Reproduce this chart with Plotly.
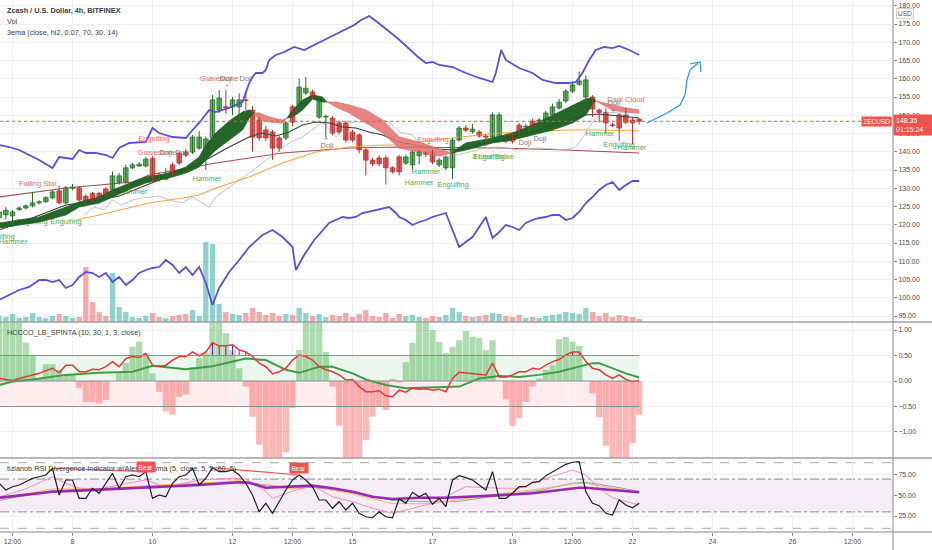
import plotly.graph_objects as go

W, H = 932, 550
FONT = "Liberation Sans"

# ---------------- time base (4h bars) ----------------
N = 97
T0 = 6 + 4 / 24.0          # first bar: day 6, 04:00
STEP = 1 / 6.0             # 4 hours in days


def bar_day(i):
    return T0 + i * STEP


days = [bar_day(i) for i in range(N)]

# ---------------- price candles ----------------
opens = [121.9, 122.7, 122.4, 124.2, 124.6, 125.2, 126.0, 126.3, 127.4, 129.3,
         126.0, 130.0, 130.1, 127.8, 128.6, 128.6, 129.8, 129.5, 131.6, 131.6,
         135.6, 136.1, 136.1, 138.2, 133.6, 132.5, 136.4, 139.6, 139.9, 139.9,
         141.0, 138.6, 143.8, 151.4, 152.3, 152.3, 152.3, 154.2, 151.4, 148.7,
         146.0, 145.4, 143.8, 143.8, 152.3, 152.8, 156.1, 156.4, 149.5, 149.5,
         149.2, 147.9, 147.9, 145.4, 144.6, 140.5, 137.7, 138.3, 138.3, 135.6,
         138.6, 136.9, 136.4, 138.9, 139.6, 139.9, 136.4, 135.6, 135.6, 143.2,
         146.5, 145.5, 145.4, 144.3, 144.0, 144.0, 144.3, 144.6, 147.3, 146.8,
         148.4, 148.4, 148.7, 150.1, 152.0, 153.9, 156.6, 158.5, 155.0, 155.0,
         151.4, 150.8, 147.3, 150.1, 150.1, 148.7, 148.9]
highs = [124.5, 124.8, 124.0, 125.0, 125.6, 129.0, 126.7, 127.8, 129.5, 130.8,
         130.6, 131.2, 130.6, 128.3, 129.0, 129.0, 130.3, 134.6, 134.2, 136.5,
         136.9, 137.2, 138.6, 138.8, 134.4, 135.5, 137.0, 140.1, 140.8, 144.6,
         145.6, 144.2, 155.5, 156.9, 157.0, 155.0, 156.0, 156.5, 152.5, 149.5,
         147.0, 146.0, 144.5, 148.4, 152.8, 160.0, 160.5, 157.0, 155.3, 150.2,
         149.8, 148.5, 148.5, 146.0, 145.0, 141.0, 138.3, 139.0, 139.0, 136.0,
         139.2, 139.2, 140.3, 140.4, 140.1, 140.5, 138.3, 139.0, 143.8, 147.0,
         147.3, 147.6, 146.0, 144.8, 150.8, 150.8, 145.0, 145.2, 147.9, 147.7,
         149.0, 149.3, 151.2, 153.2, 154.5, 157.2, 159.0, 162.0, 160.9, 155.5,
         151.9, 152.0, 148.0, 150.6, 152.0, 149.2, 149.2]
lows = [121.0, 121.5, 119.5, 123.8, 124.2, 124.8, 125.6, 126.0, 127.0, 125.6,
        125.5, 129.5, 126.3, 125.9, 126.2, 127.0, 127.2, 129.0, 131.0, 131.2,
        135.2, 135.8, 135.7, 131.6, 131.8, 132.2, 133.4, 136.4, 138.6, 139.4,
        140.5, 135.0, 143.2, 150.6, 150.4, 150.0, 149.0, 151.5, 140.0, 143.0,
        143.0, 137.8, 140.0, 143.2, 147.0, 152.0, 155.5, 154.4, 149.0, 144.0,
        144.5, 144.8, 142.5, 142.6, 139.5, 133.5, 136.0, 136.0, 131.0, 134.0,
        133.5, 136.4, 135.0, 136.5, 138.5, 136.6, 135.8, 135.0, 132.5, 142.8,
        145.3, 145.0, 143.8, 141.5, 143.5, 142.5, 142.3, 142.3, 144.0, 146.2,
        146.6, 148.0, 148.2, 149.6, 151.5, 153.4, 156.0, 158.0, 154.4, 149.5,
        148.0, 145.0, 146.7, 143.0, 147.5, 142.0, 147.5]
closes = [123.5, 124.0, 123.5, 124.6, 125.2, 126.0, 126.3, 127.4, 129.0, 126.0,
          130.1, 130.3, 126.8, 126.5, 126.6, 127.5, 127.5, 133.4, 133.4, 135.6,
          136.4, 136.6, 138.0, 132.3, 132.5, 132.9, 133.9, 136.9, 139.1, 144.0,
          144.0, 143.5, 154.2, 154.7, 152.0, 154.2, 154.2, 154.0, 144.0, 143.8,
          143.8, 141.0, 141.0, 147.9, 148.1, 157.7, 157.4, 155.0, 154.7, 149.7,
          145.1, 145.4, 143.2, 143.2, 140.5, 137.7, 136.7, 136.7, 135.6, 134.5,
          134.5, 138.6, 139.9, 139.9, 139.3, 137.2, 137.7, 138.5, 143.2, 146.5,
          145.9, 146.2, 144.3, 144.0, 150.1, 150.1, 142.9, 142.9, 144.6, 147.0,
          147.1, 148.7, 150.6, 152.3, 153.6, 156.6, 158.3, 159.4, 159.7, 151.7,
          150.8, 147.9, 147.2, 146.5, 148.1, 147.9, 148.35]
volumes = [6, 5, 8, 4, 5, 9, 5, 4, 6, 8,
           6, 4, 5, 55, 20, 10, 6, 49, 15, 10,
           5, 4, 6, 9, 5, 4, 6, 7, 8, 12,
           6, 80, 78, 18, 10, 8, 7, 9, 14, 10,
           7, 9, 6, 8, 7, 14, 9, 6, 8, 5,
           7, 6, 9, 5, 8, 12, 6, 5, 9, 4,
           8, 6, 7, 5, 4, 6, 5, 7, 14, 10,
           6, 5, 6, 7, 9, 8, 6, 5, 7, 4,
           5, 4, 6, 7, 8, 10, 9, 8, 14, 10,
           6, 9, 5, 7, 6, 5, 3]
last_price = 148.35

# ---------------- overlays on price (sampled at bar index) ----------------
upper_idx = [0, 1.5, 3, 4.5, 6, 8, 9, 10, 11, 12, 13, 14.5, 16, 17, 18, 19.5, 21, 22, 23, 24,
             26, 28, 29, 30, 31.5, 32.5, 34.5, 35.5, 36.5, 37.5, 38, 38.5, 39.5, 40, 40.5, 41.5,
             42.75, 44.25, 45.75, 47.25, 48.75, 50.25, 51.75, 53.25, 54.3, 55.5, 56.7, 58.2,
             59.7, 61.2, 63, 64, 65, 66, 68, 70, 72, 74, 74.5, 75.3, 76, 78, 80, 81.5, 83.5,
             85.5, 86.5, 87.5, 88, 88.5, 89.5, 90.75, 92, 93, 94.5, 96]
upper_band = [141.85, 141.3, 140.48, 139.11, 137.74, 135.55, 138.56, 138.29, 138.02, 140.48,
              139.66, 139.66, 139.11, 138.29, 141.03, 142.4, 142.67, 142.67, 146.51, 145.14,
              144.04, 143.77, 145.96, 147.88, 151.44, 150.89, 151.99, 152.8, 153.63, 158.83,
              160.48, 161.58, 161.58, 162.4, 165.14, 166.51, 167.33, 168.7, 167.88, 169.25,
              170.62, 171.99, 173.36, 174.72, 176.1, 177.19, 175.55, 173.36, 171.16, 168.7,
              165.68, 164.31, 164.59, 163.77, 163.22, 161.58, 160.21, 159.11, 161.58, 167.88,
              165.14, 162.95, 161.58, 159.66, 158.83, 158.83, 159.11, 161.58, 163.22, 165.14,
              167.88, 168.7, 168.42, 168.97, 167.88, 166.51]
lower_idx = [0, 1.5, 3, 4.5, 6, 7, 8, 9, 10, 11, 12, 13, 14, 15, 16, 17, 18, 19, 20, 21,
             22, 23, 24, 25, 26, 27, 28, 29, 30, 31, 32, 33, 34.5, 36, 37.5, 39.5, 41, 42.5,
             44, 44.5, 45.75, 47.25, 48.75, 49.5, 50.5, 51.5, 52.5, 53.5, 54.5, 56.5, 57.5,
             58.5, 59.5, 60, 61, 62, 63, 64, 65, 66, 67, 68, 69, 70, 71, 73, 74, 75, 76, 77,
             78, 79, 80, 81, 82, 83, 84, 85, 86, 87, 88, 89, 90, 91, 92, 93, 94, 95, 96]
lower_band = [99.38, 100.75, 102.12, 102.95, 104.86, 104.86, 104.31, 104.86, 102.67, 103.49,
              105.69, 107.06, 106.78, 105.69, 106.78, 104.31, 105.69, 103.49, 104.86, 106.78,
              107.6, 108.15, 108.42, 110.34, 108.97, 106.78, 108.42, 106.23, 108.42, 104.04,
              98.01, 102.67, 107.06, 110.34, 113.9, 117.19, 118.56, 116.64, 113.9, 107.6,
              111.71, 115.82, 119.11, 120.48, 121.3, 122.12, 121.85, 122.12, 123.22, 124.04,
              124.59, 124.86, 123.22, 122.12, 121.3, 119.93, 120.75, 121.3, 122.12, 122.67,
              123.22, 118.56, 113.9, 115.27, 116.64, 122.12, 116.37, 118.01, 119.93, 119.38,
              118.56, 120.48, 121.3, 121.85, 122.12, 122.67, 122.67, 121.3, 121.85, 123.49,
              125.96, 127.6, 129.52, 130.9, 131.71, 129.52, 130.9, 131.99, 131.99]

ribbon_idx = [0, 3, 6, 10, 12, 15, 17, 20, 22, 24, 26, 28, 30, 31, 32.5, 34.5, 36.5, 37.5,
              38.25, 39, 40.5, 42.5, 43.2, 44, 45.5, 47, 48.5, 49.2, 50.5, 52.5, 55, 57.5,
              60, 63, 66, 67.8, 70, 74, 77, 80, 83, 86, 88, 89, 89.5, 92, 94, 96]
ribbon_fast = [120.48, 121.3, 122.12, 124.86, 126.23, 127.6, 129.52, 131.71, 133.08, 133.63,
               134.45, 135.82, 138.56, 141.85, 145.14, 148.42, 150.89, 151.44, 150.62, 148.7,
               148.15, 147.88, 149.25, 151.44, 154.18, 155.55, 155.0, 153.63, 152.26, 150.62,
               147.88, 145.14, 141.03, 139.93, 138.83, 139.66, 142.4, 143.77, 145.14, 147.33,
               150.07, 152.81, 154.45, 154.73, 153.9, 151.44, 150.89, 150.62]
ribbon_slow = [119.11, 119.93, 120.75, 122.67, 124.86, 125.96, 127.6, 130.07, 131.44, 132.26,
               133.08, 134.18, 135.82, 137.74, 140.48, 143.22, 145.96, 149.25, 150.62, 150.62,
               149.52, 148.7, 149.25, 149.52, 151.44, 154.45, 153.63, 153.63, 153.63, 152.81,
               151.44, 148.7, 144.04, 142.67, 140.75, 139.66, 140.48, 142.4, 143.22, 144.59,
               145.96, 147.88, 150.07, 153.08, 153.9, 152.81, 151.99, 151.44]

black_idx = [0, 3, 10, 15, 18, 21, 24, 27, 29.25, 31.5, 34.5, 37.5, 39.3, 41.5, 43.5, 45.5,
             47.5, 49.5, 51.5, 53.5, 55.5, 57.5, 60, 63, 66, 68, 70, 75, 80, 85, 88, 90, 93, 96]
black_ma = [118.56, 120.48, 125.41, 126.78, 127.88, 130.07, 132.26, 134.45, 136.1, 138.29,
            141.3, 144.04, 145.14, 144.32, 145.41, 147.33, 148.15, 147.88, 146.78, 146.51,
            145.41, 144.59, 142.67, 141.58, 140.75, 140.48, 141.03, 143.22, 145.41, 148.7,
            150.07, 150.34, 149.8, 149.25]
orange_idx = [11.5, 15, 20, 22.5, 27.5, 30, 32.5, 37.5, 42.5, 47.5, 52.5, 57.5, 60, 65, 75,
              80, 85, 90, 96]
orange_ma = [121.3, 122.67, 124.86, 125.96, 127.33, 128.15, 130.07, 133.08, 136.92, 139.93,
             141.3, 141.85, 141.85, 143.22, 145.14, 145.41, 145.96, 145.96, 145.69]
brown_idx = [0, 10, 20, 22.5, 32.5, 42.5, 52.5, 60, 75, 85, 96]
brown_ma = [127.6, 130.07, 131.71, 133.63, 136.92, 139.66, 141.03, 141.3, 141.03, 140.48, 139.66]
gray_idx = [12.75, 14.25, 15.75, 17, 18.3, 20, 21.5, 22.5, 24, 25.5, 27.5, 29, 31.5, 32.5, 34,
            35.5, 37.5, 39.5, 41.5, 43.5, 45.5, 47.5, 48.5, 49.5, 50.5, 52.5, 53.5, 55.5, 57.5,
            58.5, 60, 62, 63, 65, 67, 70, 73, 75, 78, 81, 85, 86.5, 87.5, 88.5, 89.5, 91, 93, 96]
gray_line = [122.67, 124.86, 124.04, 126.78, 125.41, 126.78, 127.33, 127.6, 127.88, 126.78,
             125.96, 127.6, 124.86, 127.6, 129.52, 131.44, 134.18, 136.92, 139.66, 142.4,
             144.04, 146.78, 148.15, 145.96, 144.04, 147.88, 148.15, 148.15, 148.7, 148.15,
             145.41, 144.59, 142.4, 139.66, 138.56, 139.66, 141.03, 141.3, 140.48, 141.03,
             140.48, 141.3, 143.77, 146.78, 149.25, 150.62, 150.89, 150.62]

# ---------------- candle pattern labels ----------------
label_text = ["Falling Star", "Engulfing", "Gravestone", "Doji", "Doji", "Gravestone", "Doji",
              "Doji", "Hammer", "Doji", "Hammer", "Engulfing", "Engulfing", "Engulfing",
              "Hammer", "Engulfing", "Hammer", "Hammer", "Engulfing", "Engulfing",
              "3 Line Strike", "Doji", "Doji", "Doji", "Dark Cloud", "Hammer", "Engulfing",
              "Hammer"]
label_kind = ["bear", "bear", "bear", "doji", "doji", "bear", "doji",
              "doji", "bull", "doji", "bull", "bull", "bull", "bull",
              "bull", "bear", "bull", "bull", "bull", "bull",
              "bull", "doji", "doji", "doji", "bear", "bull", "bull", "bull"]
label_day = [7.1375, 10.0375, 10.1125, 10.3375, 10.7375, 11.6625, 11.8375,
             12.3375, 11.3625, 14.3625, 6.5125, 6.1625, 6.9875, 7.8375,
             9.5125, 17.0125, 16.8375, 16.6625, 17.5125, 18.4125,
             18.5125, 19.3125, 19.6875, 21.5375, 21.8375, 21.1875, 21.6625, 21.9875]
label_price = [131.16, 143.49, 139.66, 139.66, 139.66, 159.93, 159.93,
               159.93, 132.53, 141.58, 115.27, 116.64, 120.75, 120.75,
               128.97, 143.22, 134.45, 131.44, 130.89, 138.56,
               138.56, 142.4, 143.49, 153.36, 154.18, 144.86, 141.85, 141.03]
mark_text = ["*", "*", "+", "+"]
mark_kind = ["bear", "doji", "doji", "doji"]
mark_day = [11.8625, 12.3625, 14.3375, 21.5125]
mark_price = [157.74, 156.92, 143.49, 151.16]

# hand-drawn arrow (day, price)
arrow_day = [22.3625, 22.8625, 23.1875, 23.3125, 23.3625, 23.4375, 23.6375]
arrow_price = [147.88, 150.62, 152.81, 155.55, 159.66, 162.4, 164.31]
arrowhead_day = [23.4375, 23.6875, 23.7125]
arrowhead_price = [164.04, 164.59, 161.85]

# ---------------- HCCCO oscillator ----------------
hist = [1.5, 1.5, 1.5, 1.5, 0.75, 0.51, 0.05, 0.33, 0.33, 0.22,
        0.12, 0.12, -0.14, -0.41, -0.41, -0.44, -0.37, 0.0, 0.15, 0.35,
        0.67, 0.77, 0.55, 0.15, -0.21, -0.6, -0.66, -0.31, -0.27, 0.27,
        0.45, 0.55, 1.5, 1.5, 0.94, 0.61, 0.25, -0.11, -0.7, -1.25,
        -1.6, -1.6, -1.6, -1.4, -0.53, 0.61, 1.5, 1.5, 1.5, 0.57,
        -0.11, -0.88, -1.6, -1.6, -1.6, -1.16, -0.7, -0.5, -0.57, 0.04,
        -0.03, 0.37, 0.75, 1.5, 1.5, 1.0, 0.77, 0.55, 0.67, 0.8,
        0.98, 0.87, 0.84, 0.61, 0.8, 0.0, -0.36, -0.88, -0.73, -0.41,
        -0.11, 0.05, 0.22, 0.31, 0.82, 0.86, 0.77, 0.69, 0.0, -0.24,
        -0.71, -1.27, -1.6, -1.6, -1.6, -1.22, -0.66]
osc_red = [0.05, 0.03, 0.01, 0.05, 0.08, 0.11, 0.15, 0.2, 0.25, 0.16,
           0.31, 0.31, 0.18, 0.18, 0.23, 0.22, 0.28, 0.38, 0.28, 0.44,
           0.48, 0.46, 0.54, 0.31, 0.29, 0.31, 0.41, 0.48, 0.48, 0.57,
           0.49, 0.57, 0.75, 0.69, 0.69, 0.71, 0.61, 0.57, 0.48, 0.35,
           0.28, 0.14, 0.18, 0.25, 0.41, 0.51, 0.48, 0.41, 0.28, 0.22,
           0.18, 0.12, 0.02, 0.03, -0.11, -0.21, -0.21, -0.19, -0.29, -0.31,
           -0.18, -0.22, -0.14, -0.16, -0.15, -0.18, -0.16, -0.21, 0.05, 0.17,
           0.16, 0.15, 0.14, 0.12, 0.35, 0.08, 0.08, 0.12, 0.18, 0.18,
           0.25, 0.23, 0.31, 0.38, 0.42, 0.51, 0.57, 0.57, 0.38, 0.25,
           0.22, 0.12, 0.05, 0.12, 0.03, -0.01, 0.01]
osc_green_idx = [0, 2, 5, 10, 15, 20, 23, 25.5, 28, 32, 35, 37, 40, 43, 45, 48, 50, 53, 55,
                 58, 61, 65, 69, 72, 75, 78, 81, 84, 87, 89, 90, 92, 94, 96]
osc_green = [-0.08, -0.01, 0.03, 0.12, 0.16, 0.18, 0.3, 0.26, 0.23, 0.29, 0.38, 0.44, 0.41,
             0.22, 0.16, 0.28, 0.28, 0.15, 0.03, -0.08, -0.14, -0.13, -0.11, 0.05, 0.1, 0.08,
             0.12, 0.18, 0.28, 0.35, 0.35, 0.25, 0.15, 0.07]
osc_flag_bars = [32, 33, 34, 35, 36, 37, 86, 87]
osc_levels = [0.5, 0.0, -0.5]

# ---------------- RSI ----------------
rsi = [64.9, 56.7, 60.7, 62.8, 66.8, 70.9, 72.9, 75.0, 83.2, 50.6,
       68.9, 68.9, 46.6, 46.6, 58.8, 52.7, 64.9, 77.0, 58.8, 72.9,
       75.0, 72.9, 79.0, 46.6, 50.6, 48.5, 64.9, 72.9, 75.0, 83.2,
       62.8, 71.0, 83.9, 79.0, 79.0, 81.1, 75.0, 64.9, 50.6, 30.2,
       40.5, 28.3, 42.4, 56.7, 68.9, 75.0, 68.9, 60.7, 44.5, 44.5,
       34.4, 42.4, 32.3, 40.5, 28.3, 24.1, 22.9, 30.2, 24.1, 22.9,
       46.0, 40.5, 53.9, 48.5, 52.7, 39.3, 46.6, 36.3, 68.9, 74.2,
       71.7, 68.9, 62.8, 56.7, 79.0, 46.6, 46.6, 52.7, 60.7, 60.7,
       66.1, 66.8, 74.2, 79.0, 83.2, 88.0, 90.5, 91.2, 54.6, 40.5,
       37.6, 28.3, 26.2, 44.5, 38.4, 35.1, 40.5]
wma_idx = [0, 5, 8, 12, 16.5, 23, 30, 36, 37.5, 40, 45, 47, 50, 53, 56, 59, 63, 67, 74, 80,
           87, 88, 92, 96]
rsi_wma = [47.3, 51.5, 54.6, 55.9, 57.6, 60.0, 62.8, 66.1, 65.5, 59.5, 60.7, 62.0, 58.8, 54.6,
           48.5, 45.7, 47.3, 47.3, 49.8, 52.7, 59.5, 59.5, 56.7, 53.9]
pink_idx = [0, 4, 8, 10, 12, 15, 20, 22, 25, 30, 35, 37, 40, 41, 44, 47, 50, 53, 56, 59, 62,
            65, 68, 70, 72, 75, 78, 82, 86, 88, 90, 92, 95, 96]
rsi_pink = [48, 58, 72.9, 65, 59, 58, 66, 69, 60, 69, 71, 70, 55, 46.6, 55, 62, 48.5, 42.4,
            34.4, 28.3, 34.4, 40.5, 52.7, 60.7, 60, 58.8, 58.8, 71, 81, 75, 58.8, 47.3, 40.5,
            38.4]
slow_idx = [0, 8, 15, 22, 30, 36, 40, 44, 47, 53, 59, 65, 69, 75, 81, 86, 88, 92, 96]
rsi_orange = [46, 58, 58, 62, 65, 68, 62, 58, 61, 52, 40, 40, 45, 52, 58, 64, 65, 59, 54]
rsi_sage = [44, 56, 58, 61, 64, 67, 63, 59, 60, 54, 44, 42, 43, 50, 56, 65, 66, 61, 55]
divergences = [(8, 22), (32, 45)]
bear_y = [84.5, 84.0]
rsi_levels_dash = [90, 10]
rsi_levels_dashdot = [70, 30]

# ---------------- axes ticks ----------------
x_tickvals = [6.5, 8, 10, 12, 13.5, 15, 17, 19, 20.5, 22, 24, 26, 27.5]
x_ticktext = ["12:00", "8", "10", "12", "12:00", "15", "17", "19", "12:00", "22", "24", "26", "12:00"]
price_ticks = [95, 100, 105, 110, 115, 120, 125, 130, 135, 140, 145, 150, 155, 160, 165, 170, 175, 180]
osc_ticks = [1.0, 0.5, 0.0, -0.5, -1.0]
rsi_ticks = [25, 50, 75]

# ---------------- layout geometry (pixels) ----------------
PLOT_R = 893
MAIN_BOTTOM, OSC_BOTTOM, RSI_BOTTOM = 322, 458, 532
X_RANGE = [8 + (0 - 72.5) / 40.0, 8 + (PLOT_R - 72.5) / 40.0]
PRICE_RANGE = [181.575 - MAIN_BOTTOM / 3.65, 181.575]
OSC_RANGE = [-1.51, 1.157]
RSI_RANGE = [5.5, 95.7]


def py(px):
    return 1 - px / H


def idx_days(idx):
    return [bar_day(i) for i in idx]


GRID = "#eef0f5"
BULL_TXT = "#4fae55"
BEAR_TXT = "#ee6b6b"
DOJI_TXT = "#7d7d7d"
kind_color = {"bull": BULL_TXT, "bear": BEAR_TXT, "doji": DOJI_TXT}
UP_BODY, UP_EDGE = "#5cb85c", "#2e6b30"
DN_BODY, DN_EDGE = "#ef5350", "#b03636"

fig = go.Figure()

# volume (base axis y)
vol_colors = ["rgba(38,166,154,0.5)" if c >= o else "rgba(239,83,80,0.5)" for o, c in zip(opens, closes)]
fig.add_trace(go.Bar(x=days, y=volumes, width=STEP * 0.8, marker=dict(color=vol_colors, line=dict(width=0)),
                     xaxis="x", yaxis="y", hoverinfo="skip"))

# bands
for idx, vals in ((upper_idx, upper_band), (lower_idx, lower_band)):
    fig.add_trace(go.Scatter(x=idx_days(idx), y=vals, mode="lines", line=dict(color="#5b4fd8", width=1.8),
                             xaxis="x", yaxis="y4", hoverinfo="skip"))
fig.add_trace(go.Scatter(x=idx_days(brown_idx), y=brown_ma, mode="lines", line=dict(color="#a24d4d", width=1.1),
                         xaxis="x", yaxis="y4", hoverinfo="skip"))
fig.add_trace(go.Scatter(x=idx_days(orange_idx), y=orange_ma, mode="lines", line=dict(color="#f5a54a", width=1.1),
                         xaxis="x", yaxis="y4", hoverinfo="skip"))
fig.add_trace(go.Scatter(x=idx_days(gray_idx), y=gray_line, mode="lines", line=dict(color="#b4b4b4", width=0.8),
                         xaxis="x", yaxis="y4", hoverinfo="skip"))
fig.add_trace(go.Scatter(x=idx_days(black_idx), y=black_ma, mode="lines", line=dict(color="#3a3a3a", width=1.1),
                         xaxis="x", yaxis="y4", hoverinfo="skip"))

# pattern labels (under ribbon and candles)
fig.add_trace(go.Scatter(x=label_day, y=label_price, mode="text", text=label_text,
                         textfont=dict(family=FONT, size=7.5, color=[kind_color[k] for k in label_kind]),
                         xaxis="x", yaxis="y4", hoverinfo="skip"))

# 3ema ribbon, split at crossings
diff = [f - s for f, s in zip(ribbon_fast, ribbon_slow)]
segments, cur = [], [0]
for i in range(1, len(diff)):
    cur.append(i)
    if abs(diff[i]) < 1e-9:
        segments.append(cur)
        cur = [i]
if len(cur) > 1:
    segments.append(cur)
for seg in segments:
    bull = sum(diff[i] for i in seg) > 0
    line_c = "#1d5e22" if bull else "#e07272"
    fill_c = "rgba(27,94,32,0.95)" if bull else "rgba(228,110,110,0.85)"
    xs = [bar_day(ribbon_idx[i]) for i in seg]
    fig.add_trace(go.Scatter(x=xs, y=[ribbon_slow[i] for i in seg], mode="lines",
                             line=dict(color=line_c, width=0.8), xaxis="x", yaxis="y4", hoverinfo="skip"))
    fig.add_trace(go.Scatter(x=xs, y=[ribbon_fast[i] for i in seg], mode="lines", fill="tonexty",
                             fillcolor=fill_c, line=dict(color=line_c, width=0.8),
                             xaxis="x", yaxis="y4", hoverinfo="skip"))

# candles: wicks + bodies
for up in (True, False):
    wx, wy = [], []
    for d, o, h, l, c in zip(days, opens, highs, lows, closes):
        if (c >= o) == up:
            wx += [d, d, None]
            wy += [l, h, None]
    fig.add_trace(go.Scatter(x=wx, y=wy, mode="lines", line=dict(color=UP_EDGE if up else DN_EDGE, width=1),
                             xaxis="x", yaxis="y4", hoverinfo="skip"))
body_base = [min(o, c) for o, c in zip(opens, closes)]
body_len = [max(abs(c - o), 0.15) for o, c in zip(opens, closes)]
fig.add_trace(go.Bar(x=days, y=body_len, base=body_base, width=STEP * 0.68,
                     marker=dict(color=[UP_BODY if c >= o else DN_BODY for o, c in zip(opens, closes)],
                                 line=dict(color=[UP_EDGE if c >= o else DN_EDGE for o, c in zip(opens, closes)],
                                           width=0.8)),
                     xaxis="x", yaxis="y4", hoverinfo="skip"))

# marks
fig.add_trace(go.Scatter(x=mark_day, y=mark_price, mode="text", text=mark_text,
                         textfont=dict(family=FONT, size=8, color=[kind_color[k] for k in mark_kind]),
                         xaxis="x", yaxis="y4", hoverinfo="skip"))

# blue arrow
fig.add_trace(go.Scatter(x=arrow_day, y=arrow_price, mode="lines", line=dict(color="#2196f3", width=1.2),
                         xaxis="x", yaxis="y4", hoverinfo="skip"))
fig.add_trace(go.Scatter(x=arrowhead_day, y=arrowhead_price, mode="lines", line=dict(color="#2196f3", width=1.2),
                         xaxis="x", yaxis="y4", hoverinfo="skip"))

# ---------------- oscillator pane ----------------
hist_colors = ["rgba(76,175,80,0.45)" if v >= 0 else "rgba(255,82,82,0.42)" for v in hist]
fig.add_trace(go.Bar(x=days, y=hist, width=STEP * 0.93, marker=dict(color=hist_colors, line=dict(width=0)),
                     xaxis="x", yaxis="y2", hoverinfo="skip"))
fx, fy = [], []
for b in osc_flag_bars:
    fx += [days[b], days[b], None]
    fy += [0.5, osc_red[b], None]
fig.add_trace(go.Scatter(x=fx, y=fy, mode="lines", line=dict(color="#7b1fa2", width=1),
                         xaxis="x", yaxis="y2", hoverinfo="skip"))
fig.add_trace(go.Scatter(x=idx_days(osc_green_idx), y=osc_green, mode="lines",
                         line=dict(color="#3f9c45", width=2), xaxis="x", yaxis="y2", hoverinfo="skip"))
fig.add_trace(go.Scatter(x=days, y=osc_red, mode="lines", line=dict(color="#e53935", width=1.5),
                         xaxis="x", yaxis="y2", hoverinfo="skip"))

# ---------------- RSI pane ----------------
fig.add_trace(go.Scatter(x=idx_days(slow_idx), y=rsi_sage, mode="lines", line=dict(color="#86ad90", width=1),
                         xaxis="x", yaxis="y3", hoverinfo="skip"))
fig.add_trace(go.Scatter(x=idx_days(slow_idx), y=rsi_orange, mode="lines", line=dict(color="#ffb366", width=1),
                         xaxis="x", yaxis="y3", hoverinfo="skip"))
fig.add_trace(go.Scatter(x=idx_days(pink_idx), y=rsi_pink, mode="lines", line=dict(color="#f48fb1", width=1),
                         xaxis="x", yaxis="y3", hoverinfo="skip"))
fig.add_trace(go.Scatter(x=idx_days(wma_idx), y=rsi_wma, mode="lines", line=dict(color="#9c27b0", width=2.6),
                         xaxis="x", yaxis="y3", hoverinfo="skip"))
fig.add_trace(go.Scatter(x=days, y=rsi, mode="lines", line=dict(color="#1f1f1f", width=1.2),
                         xaxis="x", yaxis="y3", hoverinfo="skip"))
dx, dy = [], []
for a, b in divergences:
    dx += [days[a], days[b], None]
    dy += [rsi[a], rsi[b], None]
fig.add_trace(go.Scatter(x=dx, y=dy, mode="lines", line=dict(color="#ef5350", width=1.2),
                         xaxis="x", yaxis="y3", hoverinfo="skip"))

# ---------------- shapes ----------------
shapes = []
shapes.append(dict(type="rect", xref="x", yref="y2", x0=days[0], x1=days[-1], y0=0, y1=0.5,
                   fillcolor="rgba(76,175,80,0.11)", line=dict(width=0), layer="below"))
shapes.append(dict(type="rect", xref="x", yref="y2", x0=days[0], x1=days[-1], y0=-0.5, y1=0,
                   fillcolor="rgba(255,82,82,0.11)", line=dict(width=0), layer="below"))
for lv in osc_levels:
    shapes.append(dict(type="line", xref="x", yref="y2", x0=days[0], x1=days[-1], y0=lv, y1=lv,
                       line=dict(color="#8f8f8f", width=1), layer="above"))
shapes.append(dict(type="rect", xref="paper", yref="y3", x0=0, x1=PLOT_R / W, y0=30, y1=70,
                   fillcolor="rgba(156,39,176,0.09)", line=dict(width=0), layer="below"))
for lv in rsi_levels_dash:
    shapes.append(dict(type="line", xref="paper", yref="y3", x0=0, x1=PLOT_R / W, y0=lv, y1=lv,
                       line=dict(color="#a8a8a8", width=1, dash="dash"), layer="below"))
for lv in rsi_levels_dashdot:
    shapes.append(dict(type="line", xref="paper", yref="y3", x0=0, x1=PLOT_R / W, y0=lv, y1=lv,
                       line=dict(color="#8a8a8a", width=1, dash="dashdot"), layer="below"))
shapes.append(dict(type="line", xref="paper", yref="y3", x0=0, x1=PLOT_R / W, y0=50, y1=50,
                   line=dict(color="#c2c2c2", width=1), layer="below"))
shapes.append(dict(type="line", xref="paper", yref="y4", x0=0, x1=PLOT_R / W, y0=last_price, y1=last_price,
                   line=dict(color="#ef5350", width=1, dash="dot")))
for ypx, col, wd in ((MAIN_BOTTOM, "#a0a0a0", 1.5), (OSC_BOTTOM, "#a0a0a0", 1.5), (RSI_BOTTOM, "#c4c4c4", 2)):
    shapes.append(dict(type="line", xref="paper", yref="paper", x0=0, x1=1, y0=py(ypx), y1=py(ypx),
                       line=dict(color=col, width=wd)))
shapes.append(dict(type="line", xref="paper", yref="paper", x0=PLOT_R / W, x1=PLOT_R / W, y0=0, y1=1,
                   line=dict(color="#8a8a8a", width=1)))

# ---------------- annotations ----------------
ann = []


def legend_text(txt, ypx, bold=False):
    ann.append(dict(xref="paper", yref="paper", x=5 / W, y=py(ypx), xanchor="left", yanchor="middle",
                    text=("<b>%s</b>" % txt) if bold else txt, showarrow=False,
                    font=dict(family=FONT, size=7.3, color="#3c3c3c")))


legend_text("Zcash / U.S. Dollar, 4h, BITFINEX", 10, bold=True)
legend_text("Vol", 21)
legend_text("3ema (close, hl2, 0.07, 70, 30, 14)", 32)
legend_text("HCCCO_LB_SPINTA (10, 30, 1, 3, close)", 332)
legend_text("tizianob RSI Divergence Indicator w/Alerts &amp; wma (5, close, 5, 5, 60, 5)", 468)

for (a, b), yv in zip(divergences, bear_y):
    ann.append(dict(xref="x", yref="y3", x=days[b], y=yv, text="Bear", showarrow=False,
                    bgcolor="#ef5350", borderpad=1.5, font=dict(family=FONT, size=6.5, color="white")))

ann.append(dict(xref="paper", yref="paper", x=913.5 / W, y=py(8), text="USD", showarrow=False,
                bgcolor="white", bordercolor="#cfcfcf", borderwidth=1, borderpad=1,
                font=dict(family=FONT, size=6.5, color="#555")))
ann.append(dict(xref="paper", yref="y4", x=PLOT_R / W, y=last_price, xanchor="left", yanchor="middle",
                yshift=-4, text="148.35<br>01:15:24", showarrow=False, align="left", bgcolor="#ef5350",
                borderpad=2, width=34, font=dict(family=FONT, size=7, color="white")))
ann.append(dict(xref="paper", yref="y4", x=(PLOT_R - 1) / W, y=last_price, xanchor="right", yanchor="middle",
                text="ZECUSD", showarrow=False, bgcolor="#ef5350", borderpad=1.2,
                font=dict(family=FONT, size=6.5, color="white")))

# ---------------- layout ----------------
axis_common = dict(side="right", anchor="x", showgrid=True, gridcolor=GRID, zeroline=False,
                   ticks="outside", ticklen=3, tickcolor="#8a8a8a", tickformat=".2f",
                   tickfont=dict(family=FONT, size=7, color="#4a4a4a"), automargin=False, fixedrange=True)

fig.update_layout(
    width=W, height=H, autosize=False,
    margin=dict(l=0, r=0, t=0, b=0, pad=0),
    paper_bgcolor="white", plot_bgcolor="white",
    showlegend=False, hovermode=False, barmode="overlay",
    font=dict(family=FONT, size=7, color="#4a4a4a"),
    xaxis=dict(domain=[0, PLOT_R / W], range=X_RANGE, anchor="y3", tickvals=x_tickvals, ticktext=x_ticktext,
               showgrid=True, gridcolor=GRID, zeroline=False, ticks="outside", ticklen=3, tickcolor="#8a8a8a",
               tickfont=dict(family=FONT, size=7, color="#4a4a4a"),
               automargin=False, fixedrange=True),
    yaxis=dict(domain=[py(MAIN_BOTTOM), 1], range=[0, MAIN_BOTTOM], visible=False, fixedrange=True),
    yaxis4=dict(overlaying="y", range=PRICE_RANGE, tickvals=price_ticks, **axis_common),
    yaxis2=dict(domain=[py(OSC_BOTTOM), py(MAIN_BOTTOM)], range=OSC_RANGE, tickvals=osc_ticks, **axis_common),
    yaxis3=dict(domain=[py(RSI_BOTTOM), py(OSC_BOTTOM)], range=RSI_RANGE, tickvals=rsi_ticks, **axis_common),
    shapes=shapes,
    annotations=ann,
)

fig.write_html("out.html", config={"displayModeBar": False, "staticPlot": True},
               post_script="document.body.style.margin='0px';")
